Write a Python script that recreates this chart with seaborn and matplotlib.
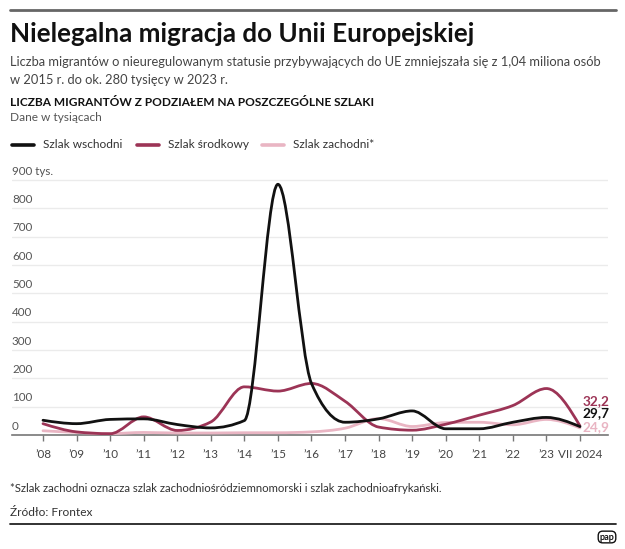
import matplotlib
matplotlib.use("Agg")
import matplotlib.pyplot as plt
import seaborn as sns
import numpy as np
from matplotlib.path import Path
from matplotlib.patches import PathPatch
from matplotlib.lines import Line2D
import matplotlib.transforms as mtransforms

# data (thousands)
years = ["’08", "’09", "’10", "’11", "’12", "’13", "’14", "’15", "’16",
         "’17", "’18", "’19", "’20", "’21", "’22", "’23", "VII 2024"]
wschodni = [52, 40, 55, 57, 37, 25, 51, 885, 182, 45, 57, 85, 22, 22, 45, 62, 29.7]
srodkowy = [40, 11, 4.5, 64, 16, 46, 170, 155, 182, 119, 28, 17, 38, 70, 104, 164, 32.2]
zachodni = [15, 9, 5, 9, 7, 7, 8, 8, 11, 24, 58, 30, 44, 45, 36, 55, 24.9]
end_labels = ["29,7", "32,2", "24,9"]
y_ticks = [0, 100, 200, 300, 400, 500, 600, 700, 800, 900]

C_BLACK = "#111111"
C_RED = "#9c3456"
C_PINK = "#e9b5c3"

W, H = 625, 549
FONT = "Lato"

sns.set_theme(style="white")
plt.rcParams["font.family"] = [FONT, "DejaVu Sans"]


def fx(px):
    return px / W


def fy(py):
    return 1 - py / H


def monotone_path(xs, ys):
    # smooth monotone cubic (same idea as d3 curveMonotoneX), drawn as bezier
    xs = np.asarray(xs, float)
    ys = np.asarray(ys, float)
    n = len(xs)
    h = np.diff(xs)
    s = np.diff(ys) / h
    m = np.zeros(n)
    for i in range(1, n - 1):
        p = (s[i - 1] * h[i] + s[i] * h[i - 1]) / (h[i - 1] + h[i])
        m[i] = (np.sign(s[i - 1]) + np.sign(s[i])) * min(abs(s[i - 1]), abs(s[i]), 0.5 * abs(p))
    m[0] = (3 * s[0] - m[1]) / 2
    m[-1] = (3 * s[-1] - m[-2]) / 2
    verts = [(xs[0], ys[0])]
    codes = [Path.MOVETO]
    for i in range(n - 1):
        d = h[i] / 3
        verts += [(xs[i] + d, ys[i] + d * m[i]),
                  (xs[i + 1] - d, ys[i + 1] - d * m[i + 1]),
                  (xs[i + 1], ys[i + 1])]
        codes += [Path.CURVE4] * 3
    return Path(verts, codes)


fig = plt.figure(figsize=(W / 100, H / 100), dpi=100)
fig.patch.set_facecolor("white")

ax = fig.add_axes([fx(12), fy(435), fx(608) - fx(12), fy(175) - fy(435)])
ax.set_facecolor("white")

x = np.arange(len(years))
series = [(zachodni, C_PINK), (srodkowy, C_RED), (wschodni, C_BLACK)]
for vals, col in series:
    ax.add_patch(PathPatch(monotone_path(x, vals), facecolor="none", edgecolor=col,
                           lw=2.0, capstyle="round", joinstyle="round", zorder=3))

ax.set_xlim((12 - 43) / 33.56, (608 - 43) / 33.56)
ax.set_ylim(0, 0 + (435 - 175) / 0.2833)

# grid + y labels placed above the grid lines
for v in y_ticks[1:]:
    ax.axhline(v, color="#ebebeb", lw=1.0, zorder=1)
trans = mtransforms.blended_transform_factory(ax.transAxes, ax.transData)
for v in y_ticks:
    lab = f"{v} tys." if v == 900 else str(v)
    ax.annotate(lab, xy=(0, v), xycoords=trans, xytext=(0, 9), textcoords="offset pixels",
                ha="left", va="center", fontsize=8.4, color="#555555")

ax.set_yticks([])
ax.set_xticks(x)
ax.set_xticklabels(years)
ax.tick_params(axis="x", direction="out", length=4, width=1, color="#777777",
               labelsize=8.4, labelcolor="#444444", pad=6, bottom=True)
sns.despine(ax=ax, left=True, top=True, right=True)
ax.spines["bottom"].set_color("#777777")
ax.spines["bottom"].set_linewidth(1.2)

# end value labels
end_vals = [wschodni[-1], srodkowy[-1], zachodni[-1]]
end_cols = [C_BLACK, C_RED, C_PINK]
end_dy = [14, 25, 1]
for lab, v, col, dy in zip(end_labels, end_vals, end_cols, end_dy):
    ax.annotate(lab, xy=(x[-1], v), xytext=(3, dy), textcoords="offset pixels",
                ha="left", va="center", fontsize=9.8, fontweight="bold", color=col,
                annotation_clip=False)

# header texts
fig.add_artist(Line2D([fx(10), fx(616)], [fy(10), fy(10)], color="#666666", lw=2))
fig.text(fx(10), fy(34), "Nielegalna migracja do Unii Europejskiej", fontsize=18.7,
         fontweight="bold", color="#111111", va="center", ha="left")
fig.text(fx(10), fy(62), "Liczba migrantów o nieuregulowanym statusie przybywających do UE "
         "zmniejszała się z 1,04 miliona osób", fontsize=9.3, color="#444444", va="center")
fig.text(fx(10), fy(80), "w 2015 r. do ok. 280 tysięcy w 2023 r.", fontsize=9.3,
         color="#444444", va="center")
fig.text(fx(10), fy(102), "LICZBA MIGRANTÓW Z PODZIAŁEM NA POSZCZEGÓLNE SZLAKI", fontsize=8.6,
         fontweight="bold", color="#111111", va="center")
fig.text(fx(10), fy(118), "Dane w tysiącach", fontsize=8.6, color="#555555", va="center")

# legend
leg = [("Szlak wschodni", C_BLACK, 12), ("Szlak środkowy", C_RED, 137),
       ("Szlak zachodni*", C_PINK, 262)]
for name, col, x0 in leg:
    fig.add_artist(Line2D([fx(x0), fx(x0 + 22)], [fy(145), fy(145)], color=col, lw=2.6))
    fig.text(fx(x0 + 31), fy(145), name, fontsize=8.6, color="#333333", va="center")

# footer
fig.text(fx(10), fy(489), "*Szlak zachodni oznacza szlak zachodniośródziemnomorski i szlak "
         "zachodnioafrykański.", fontsize=8.2, color="#333333", va="center")
fig.text(fx(10), fy(513), "Źródło: Frontex", fontsize=8.6, color="#333333", va="center")
fig.add_artist(Line2D([fx(10), fx(616)], [fy(524), fy(524)], color="#222222", lw=1.3))
fig.text(fx(607), fy(537), "pap", fontsize=6.5, fontweight="bold", color="#111111",
         ha="center", va="center",
         bbox=dict(boxstyle="round,pad=0.15,rounding_size=0.5", fc="white", ec="#111111", lw=1))

fig.savefig("out.png", dpi=100, facecolor="white")
